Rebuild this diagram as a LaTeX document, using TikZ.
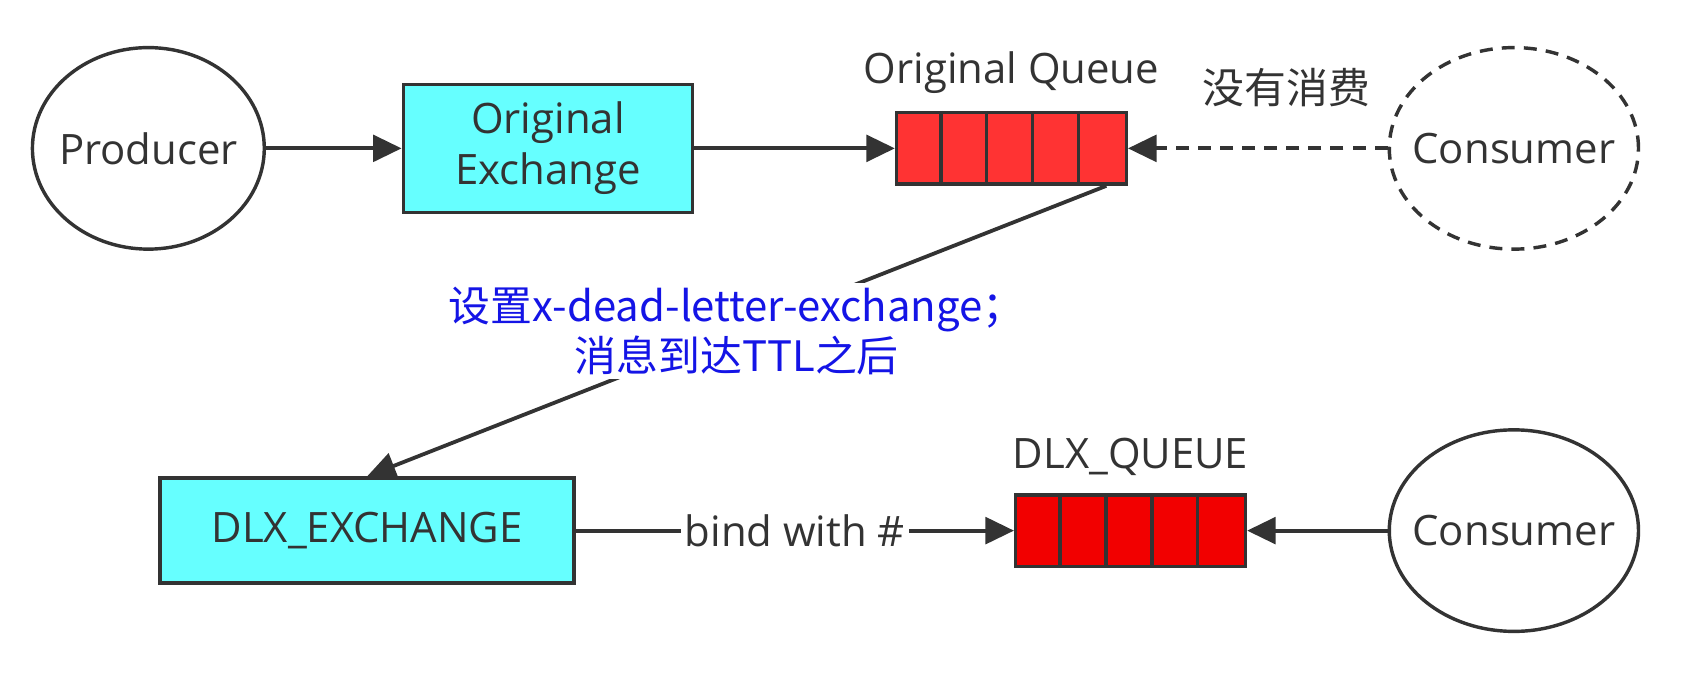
\documentclass[tikz,border=0pt]{standalone}
\usepackage{fontspec}
\setmainfont{Open Sans}
\newfontfamily\cjk{Noto Sans CJK SC}
\usetikzlibrary{arrows.meta,shapes.geometric}
\definecolor{linegray}{HTML}{333333}
\definecolor{exfill}{HTML}{66FFFF}
\definecolor{qred}{HTML}{FF3333}
\definecolor{dlxred}{HTML}{F20000}
\definecolor{noteblue}{HTML}{1414E6}
\tikzset{
  client/.style={ellipse, draw=linegray, line width=0.9pt, minimum width=2.14cm, minimum height=1.86cm, inner sep=0pt},
  exbox/.style={rectangle, draw=linegray, fill=exfill, line width=0.9pt, align=center},
  queue/.style={rectangle, draw=linegray, line width=0.9pt, minimum width=2.12cm, minimum height=0.66cm, inner sep=0pt},
  arr/.style={draw=linegray, line width=1pt, -{Triangle[length=7.5pt,width=7pt]}},
}
\begin{document}
\begin{tikzpicture}[x=0.01cm, y=-0.01cm, font=\fontsize{11}{13.3}\selectfont, text=linegray]
    \useasboundingbox (0,0) rectangle (1568,639);
    % top row
    \node[client, label=center:Producer] (prod) at (137,137) {};
    \node[exbox, minimum width=2.67cm, minimum height=1.18cm] (ox) at (506,137) {Original\\Exchange};
    \node[queue, fill=qred, label={[yshift=1pt]above:Original Queue}] (oq) at (934,137) {};
    \node[client, dashed, dash pattern=on 3.4pt off 2.4pt, minimum width=2.3cm, label=center:Consumer] (cons) at (1398,137) {};
    % bottom row
    \node[exbox, minimum width=3.82cm, minimum height=0.97cm] (dx) at (339,490) {DLX\_EXCHANGE};
    \node[queue, fill=dlxred, label={[yshift=1pt]above:DLX\_QUEUE}] (dq) at (1044,490) {};
    \node[client, minimum width=2.3cm, label=center:Consumer] (dcons) at (1398,490) {};
    % queue cells
    \foreach \q in {oq,dq}
        \foreach \i in {1,...,4}
            \draw[linegray, line width=0.9pt] ([xshift=\i*0.424cm]\q.north west) -- ([xshift=\i*0.424cm]\q.south west);
    % connectors
    \draw[arr] (prod) -- (ox);
    \draw[arr] (ox) -- (oq);
    \draw[arr, dashed, dash pattern=on 3.4pt off 2.4pt] (cons) -- (oq) node[pos=0.39, above=2.5mm, font=\cjk\fontsize{11}{13.3}\selectfont] {没有消费};
    \draw[arr] ([xshift=-2mm]oq.south east) -- (dx.north)
        node[midway, fill=white, align=center, text=noteblue, inner sep=1pt, font=\cjk\fontsize{11}{13.3}\selectfont] {设置x-dead-letter-exchange；\\消息到达TTL之后};
    \draw[arr] (dx) -- node[fill=white, inner sep=1pt] {bind with \#} (dq);
    \draw[arr] (dcons) -- (dq);
\end{tikzpicture}
\end{document}
